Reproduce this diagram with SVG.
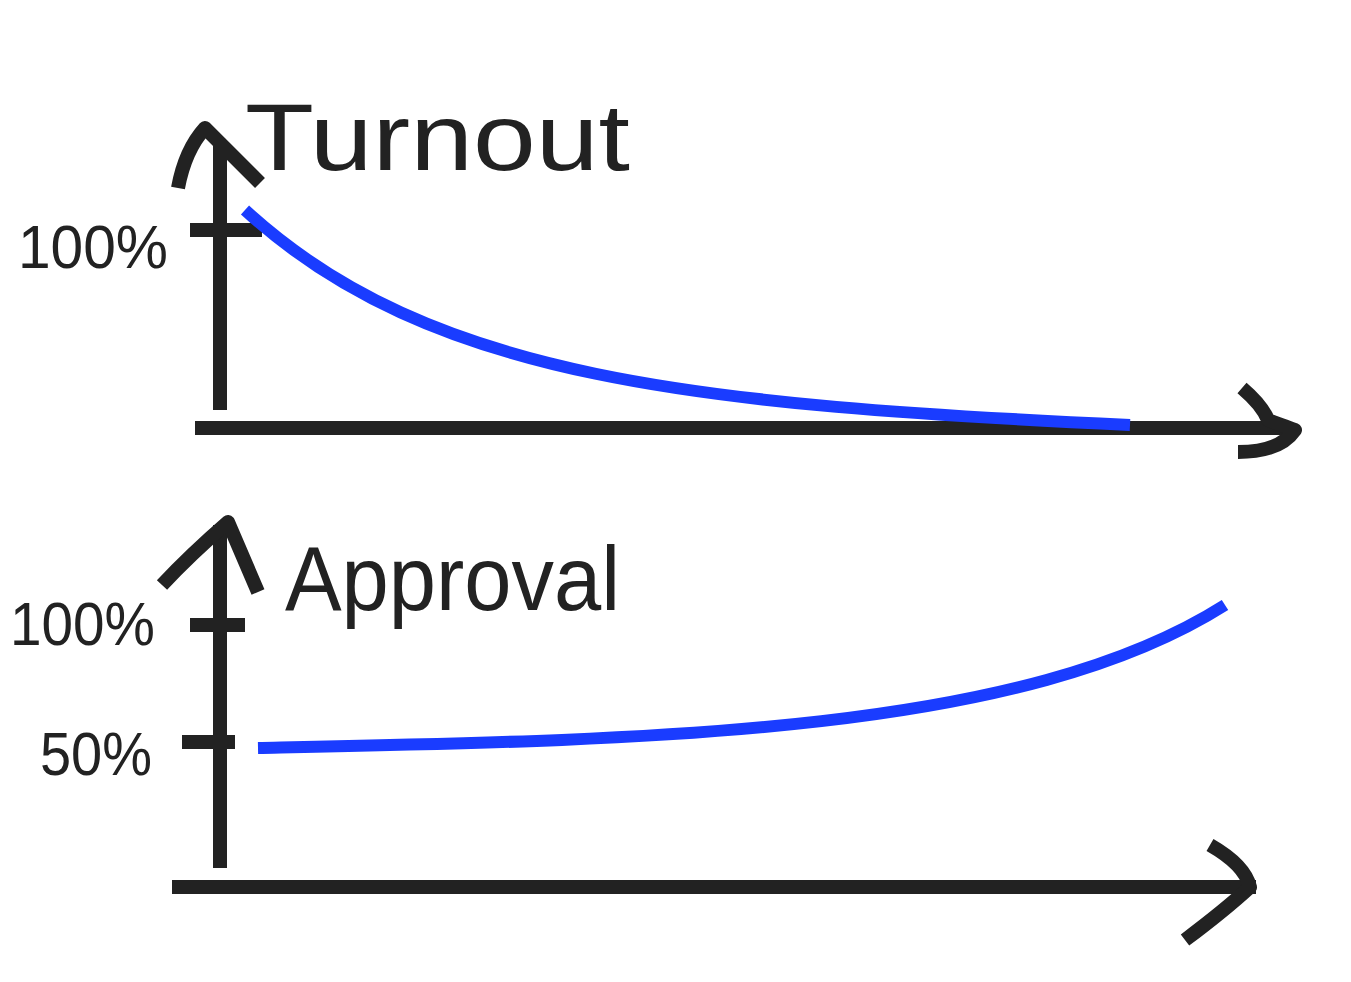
<svg xmlns="http://www.w3.org/2000/svg" width="1351" height="982" viewBox="0 0 1351 982">
<style>
.ax{fill:none;stroke:#222;stroke-width:14;stroke-linecap:butt;stroke-linejoin:round}
.cv{fill:none;stroke:#1a3cff;stroke-width:12}
.t{font-family:"Liberation Sans",Arial,sans-serif;fill:#222}
</style>
<rect width="1351" height="982" fill="#fff"/>
<g id="turnout-chart">
<path class="ax" d="M220 410V140"/>
<path class="ax" d="M178 188Q185 150 205 128L260 183"/>
<path class="ax" d="M190 230H262"/>
<path class="ax" d="M195 428H1290"/>
<path class="ax" d="M1242 388Q1262 405 1268 420Q1290 428 1295 430Q1280 452 1238 452"/>
<path class="cv" d="M245 210C430 380 700 405 1130 425"/>
<text class="t" x="245" y="170" font-size="95" textLength="385" lengthAdjust="spacingAndGlyphs">Turnout</text>
<text class="t" x="18" y="268" font-size="62" textLength="150" lengthAdjust="spacingAndGlyphs">100%</text>
</g>
<g id="approval-chart">
<path class="ax" d="M220 868V525"/>
<path class="ax" d="M162 585Q190 555 228 522L258 592"/>
<path class="ax" d="M190 625H245"/>
<path class="ax" d="M182 742H235"/>
<path class="ax" d="M172 887H1256"/>
<path class="ax" d="M1210 845Q1245 865 1250 887Q1225 910 1185 940"/>
<path class="cv" d="M258 748C650 740 1020 735 1225 605"/>
<text class="t" x="285" y="610" font-size="90" textLength="335" lengthAdjust="spacingAndGlyphs">Approval</text>
<text class="t" x="10" y="645" font-size="62" textLength="145" lengthAdjust="spacingAndGlyphs">100%</text>
<text class="t" x="40" y="775" font-size="62" textLength="112" lengthAdjust="spacingAndGlyphs">50%</text>
</g>
</svg>
